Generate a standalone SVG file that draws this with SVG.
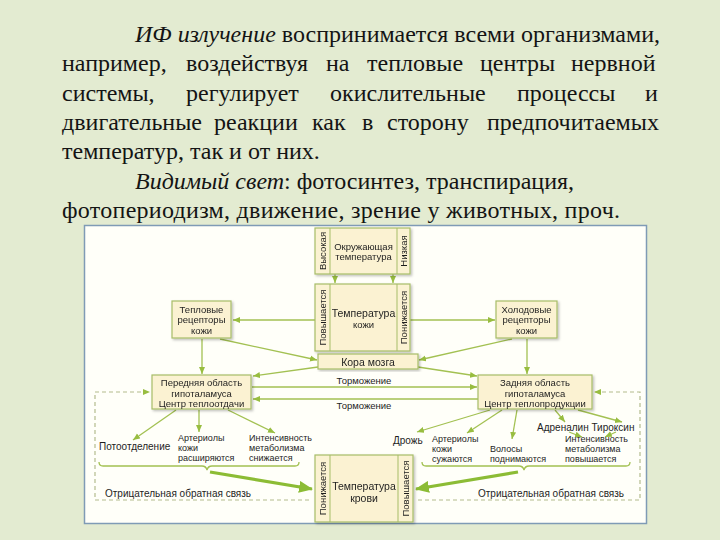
<svg xmlns="http://www.w3.org/2000/svg" width="720" height="540" viewBox="0 0 720 540">
<defs>
<style>
.para{font-family:"Liberation Serif","Times New Roman",serif;font-size:24px;fill:#141414}
.it{font-style:italic}
.n{fill:#fbf2d2;stroke:#a7bd68;stroke-width:1.2}
.sl{stroke:#a7bd68;stroke-width:1}
.t{font-family:"Liberation Sans",Arial,sans-serif;font-size:9.5px;fill:#1e1e1e;text-anchor:middle}
.tl{font-family:"Liberation Sans",Arial,sans-serif;font-size:10px;fill:#1e1e1e}
.ts{font-family:"Liberation Sans",Arial,sans-serif;font-size:9px;fill:#1e1e1e}
.big{font-size:10.5px}
.c{fill:none;stroke:#a3c152;stroke-width:1.3}
.d{fill:none;stroke:#b4bc8e;stroke-width:1.2;stroke-dasharray:4 3}
.br{fill:none;stroke:#a3c152;stroke-width:1.3}
.fat{fill:none;stroke:#8cbc35;stroke-width:3.2}
</style>
<marker id="a" markerUnits="userSpaceOnUse" markerWidth="8" markerHeight="7" refX="7" refY="3.5" orient="auto"><path d="M0,0.5 L7,3.5 L0,6.5 z" fill="#98bd40"/></marker>
<marker id="ab" markerUnits="userSpaceOnUse" markerWidth="14" markerHeight="12" refX="13" refY="6" orient="auto"><path d="M0,0 L14,6 L0,12 z" fill="#8cbc35"/></marker>
<filter id="sh" x="-10%" y="-10%" width="130%" height="130%"><feDropShadow dx="1.5" dy="1.5" stdDeviation="1" flood-color="#000" flood-opacity="0.25"/></filter>
</defs>
<rect x="0" y="0" width="720" height="540" fill="#e3ebd1"/>
<g id="paragraph">
<text class="para" x="135" y="42" textLength="525" lengthAdjust="spacing"><tspan class="it">ИФ излучение</tspan> воспринимается всеми организмами,</text>
<text class="para" y="71.3"><tspan x="62">например,</tspan><tspan x="186">воздействуя</tspan><tspan x="326">на</tspan><tspan x="367">тепловые</tspan><tspan x="480">центры</tspan><tspan x="571">нервной</tspan></text>
<text class="para" y="100.6"><tspan x="62">системы,</tspan><tspan x="186">регулирует</tspan><tspan x="330">окислительные</tspan><tspan x="517">процессы</tspan><tspan x="645">и</tspan></text>
<text class="para" y="129.9"><tspan x="62">двигательные</tspan><tspan x="214">реакции</tspan><tspan x="312">как</tspan><tspan x="362">в</tspan><tspan x="387">сторону</tspan><tspan x="487">предпочитаемых</tspan></text>
<text class="para" x="62" y="159.2">температур, так и от них.</text>
<text class="para" x="135" y="188.5"><tspan class="it">Видимый свет</tspan>: фотосинтез, транспирация,</text>
<text class="para" x="62" y="217.8" textLength="558" lengthAdjust="spacing">фотопериодизм, движение, зрение у животных, проч.</text>
</g>
<rect x="84.5" y="225.5" width="562" height="298" fill="#fffff9" stroke="#7f9bb6" stroke-width="1.5"/>
<g id="connectors">
<line class="c" x1="335" y1="274" x2="335" y2="283" marker-end="url(#a)"/>
<line class="c" x1="393" y1="274" x2="393" y2="283" marker-end="url(#a)"/>
<line class="c" x1="315" y1="320" x2="233" y2="320" marker-end="url(#a)"/>
<line class="c" x1="410" y1="320" x2="495" y2="320" marker-end="url(#a)"/>
<line class="c" x1="220" y1="339" x2="317" y2="360" marker-end="url(#a)"/>
<line class="c" x1="512" y1="339" x2="419" y2="360" marker-end="url(#a)"/>
<line class="c" x1="202" y1="339" x2="202" y2="374" marker-end="url(#a)"/>
<line class="c" x1="527" y1="339" x2="527" y2="374" marker-end="url(#a)"/>
<line class="c" x1="318" y1="367" x2="253" y2="376" marker-end="url(#a)"/>
<line class="c" x1="418" y1="367" x2="477" y2="376" marker-end="url(#a)"/>
<line class="c" x1="252" y1="387" x2="477" y2="387" marker-end="url(#a)"/>
<line class="c" x1="478" y1="399" x2="253" y2="399" marker-end="url(#a)"/>
<path class="d" d="M309,500 L95,500 L95,392 L150,392" marker-end="url(#a)"/>
<path class="d" d="M418,500 L640,500 L640,392 L594,392" marker-end="url(#a)"/>
<line class="c" x1="176" y1="410" x2="133" y2="440" marker-end="url(#a)"/>
<line class="c" x1="199" y1="410" x2="199" y2="432" marker-end="url(#a)"/>
<line class="c" x1="228" y1="410" x2="275" y2="433" marker-end="url(#a)"/>
<line class="c" x1="490" y1="410" x2="417" y2="432" marker-end="url(#a)"/>
<line class="c" x1="502" y1="410" x2="467" y2="433" marker-end="url(#a)"/>
<line class="c" x1="517" y1="410" x2="512" y2="439" marker-end="url(#a)"/>
<line class="c" x1="555" y1="410" x2="565" y2="422" marker-end="url(#a)"/>
<line class="c" x1="578" y1="410" x2="622" y2="422" marker-end="url(#a)"/>
<line class="c" x1="569" y1="432" x2="582" y2="437" marker-end="url(#a)"/>
<line class="c" x1="616" y1="432" x2="605" y2="437" marker-end="url(#a)"/>
<path class="br" d="M99,462 Q99,466 103,466 L202,466 Q206,466 207,470 Q208,466 212,466 L295,466 Q299,466 299,462"/>
<path class="br" d="M422,462 Q422,466 426,466 L519,466 Q523,466 524,470 Q525,466 529,466 L626,466 Q630,466 630,462"/>
<line class="fat" x1="210" y1="472" x2="312" y2="489" marker-end="url(#ab)"/>
<line class="fat" x1="518" y1="472" x2="416" y2="489" marker-end="url(#ab)"/>
</g>
<g id="labels">
<text class="t" x="364" y="384">Торможение</text>
<text class="t" x="364" y="408.5">Торможение</text>
<text class="tl" x="99" y="450">Потоотделение</text>
<text class="ts" x="178" y="440.5">Артериолы</text>
<text class="ts" x="178" y="450.6">кожи</text>
<text class="ts" x="178" y="460.7">расширяются</text>
<text class="ts" x="249" y="440.5">Интенсивность</text>
<text class="ts" x="249" y="450.6">метаболизма</text>
<text class="ts" x="249" y="460.7">снижается</text>
<text class="tl" x="393" y="443.5">Дрожь</text>
<text class="ts" x="432" y="442">Артериолы</text>
<text class="ts" x="432" y="452.1">кожи</text>
<text class="ts" x="432" y="462.2">сужаются</text>
<text class="ts" x="490" y="452">Волосы</text>
<text class="ts" x="490" y="462.1">поднимаются</text>
<text class="tl" x="537" y="430.5">Адреналин Тироксин</text>
<text class="ts" x="565" y="442">Интенсивность</text>
<text class="ts" x="565" y="452.1">метаболизма</text>
<text class="ts" x="565" y="462.2">повышается</text>
<text class="tl" x="105" y="496.5">Отрицательная обратная связь</text>
<text class="tl" x="478" y="496.5">Отрицательная обратная связь</text>
</g>
<g id="ambient" filter="url(#sh)">
<rect class="n" x="315" y="228" width="95" height="46"/>
<line class="sl" x1="330" y1="228" x2="330" y2="274"/>
<line class="sl" x1="397" y1="228" x2="397" y2="274"/>
<text class="t" transform="translate(326,251) rotate(-90)">Высокая</text>
<text class="t" transform="translate(407,251) rotate(-90)">Низкая</text>
<text class="t" x="363.5" y="249.5">Окружающая</text>
<text class="t" x="363.5" y="260">температура</text>
</g>
<g id="skin" filter="url(#sh)">
<rect class="n" x="315" y="284" width="95" height="67"/>
<line class="sl" x1="330" y1="284" x2="330" y2="351"/>
<line class="sl" x1="397" y1="284" x2="397" y2="351"/>
<text class="t" transform="translate(326,317.5) rotate(-90)">Повышается</text>
<text class="t" transform="translate(407,317.5) rotate(-90)">Понижается</text>
<text class="t big" x="363.5" y="316.5">Температура</text>
<text class="t" x="363.5" y="328">кожи</text>
</g>
<g id="cortex" filter="url(#sh)">
<rect class="n" x="318" y="354" width="100" height="15"/>
<text class="t big" x="368" y="365.5">Кора мозга</text>
</g>
<g id="warm" filter="url(#sh)">
<rect class="n" x="172" y="301" width="59" height="37"/>
<text class="t" x="201.5" y="312.5">Тепловые</text>
<text class="t" x="201.5" y="323.3">рецепторы</text>
<text class="t" x="201.5" y="334.1">кожи</text>
</g>
<g id="cold" filter="url(#sh)">
<rect class="n" x="496" y="301" width="61" height="37"/>
<text class="t" x="526.5" y="312.5">Холодовые</text>
<text class="t" x="526.5" y="323.3">рецепторы</text>
<text class="t" x="526.5" y="334.1">кожи</text>
</g>
<g id="anterior" filter="url(#sh)">
<rect class="n" x="152" y="375" width="99" height="34"/>
<text class="t" x="201.5" y="386">Передняя область</text>
<text class="t" x="201.5" y="396.7">гипоталамуса</text>
<text class="t" x="201.5" y="407.4">Центр теплоотдачи</text>
</g>
<g id="posterior" filter="url(#sh)">
<rect class="n" x="478" y="375" width="114" height="34"/>
<text class="t" x="535" y="386">Задняя область</text>
<text class="t" x="535" y="396.7">гипоталамуса</text>
<text class="t" x="535" y="407.4">Центр теплопродукции</text>
</g>
<g id="blood" filter="url(#sh)">
<rect class="n" x="315" y="455" width="98" height="67"/>
<line class="sl" x1="330" y1="455" x2="330" y2="522"/>
<line class="sl" x1="398" y1="455" x2="398" y2="522"/>
<text class="t" transform="translate(326,488.5) rotate(-90)">Понижается</text>
<text class="t" transform="translate(409,488.5) rotate(-90)">Повышается</text>
<text class="t big" x="364" y="489.5">Температура</text>
<text class="t big" x="364" y="501.5">крови</text>
</g>
</svg>
